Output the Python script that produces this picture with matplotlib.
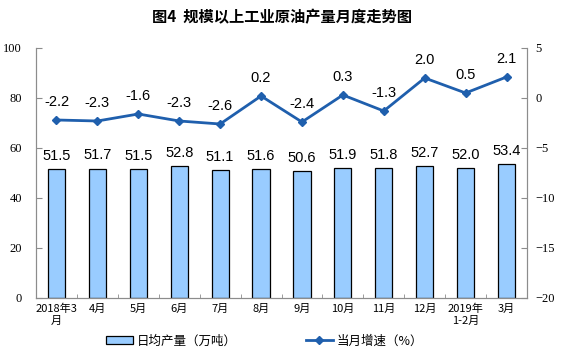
import numpy as np
import matplotlib
matplotlib.use('Agg')
import matplotlib.pyplot as plt

plt.rcParams['font.family'] = ['Noto Sans CJK SC', 'DejaVu Sans']

months = ['2018年3\n月', '4月', '5月', '6月', '7月', '8月', '9月', '10月',
          '11月', '12月', '2019年\n1-2月', '3月']
output = [51.5, 51.7, 51.5, 52.8, 51.1, 51.6, 50.6, 51.9, 51.8, 52.7, 52.0, 53.4]
growth = [-2.2, -2.3, -1.6, -2.3, -2.6, 0.2, -2.4, 0.3, -1.3, 2.0, 0.5, 2.1]

fig = plt.figure(figsize=(5.63, 3.55), dpi=100)
ax = fig.add_axes([0.064, 0.1606, 0.872, 0.7042])
ax2 = ax.twinx()

x = np.arange(len(months))
bar_color = '#99CCFF'
line_color = '#1F5FAD'
grey = '#8C8C8C'
num_font = 'Liberation Serif'

bars = ax.bar(x, output, width=0.42, color=bar_color, edgecolor='black',
              linewidth=0.9, label='日均产量（万吨）')
for xi, v in zip(x, output):
    ax.text(xi, v + 2.5, f'{v:.1f}', ha='center', va='bottom', fontsize=10.5,
            family='Liberation Sans')

line, = ax2.plot(x, growth, color=line_color, linewidth=2, marker='D',
                 markersize=4.5, label='当月增速（%）')
for xi, v in zip(x, growth):
    ax2.text(xi, v + 1.1, f'{v:.1f}', ha='center', va='bottom', fontsize=10.5,
             family='Liberation Sans')

ax.set_xlim(-0.5, len(months) - 0.5)
ax.set_ylim(0, 100)
ax.set_yticks(range(0, 101, 20))
ax2.set_ylim(-20, 5)
ax2.set_yticks(range(-20, 6, 5))

ax.set_xticks(x)
ax.set_xticklabels(months, fontsize=8)
ax.set_xticks(np.arange(-0.5, len(months), 1), minor=True)
ax.tick_params(axis='x', which='major', length=0, pad=4)
ax.tick_params(axis='x', which='minor', length=3, color=grey, direction='in')

for a in (ax, ax2):
    a.spines['top'].set_visible(False)
    for s in ('left', 'right', 'bottom'):
        a.spines[s].set_color(grey)
    a.tick_params(axis='y', length=4, color=grey, labelsize=9, direction='in')
for lab in ax.get_yticklabels() + ax2.get_yticklabels():
    lab.set_family(num_font)
ax.tick_params(axis='y', pad=10)
ax2.tick_params(axis='y', pad=6)

fig.suptitle('图4  规模以上工业原油产量月度走势图', x=0.5, y=0.975,
             fontsize=11, fontweight='bold')

fig.legend([bars, line], ['日均产量（万吨）', '当月增速（%）'], loc='lower center',
           bbox_to_anchor=(0.47, -0.01), ncol=2, frameon=False, fontsize=9,
           columnspacing=5.5, handlelength=2.2, handletextpad=0.3)

fig.savefig('out.png', dpi=100)
